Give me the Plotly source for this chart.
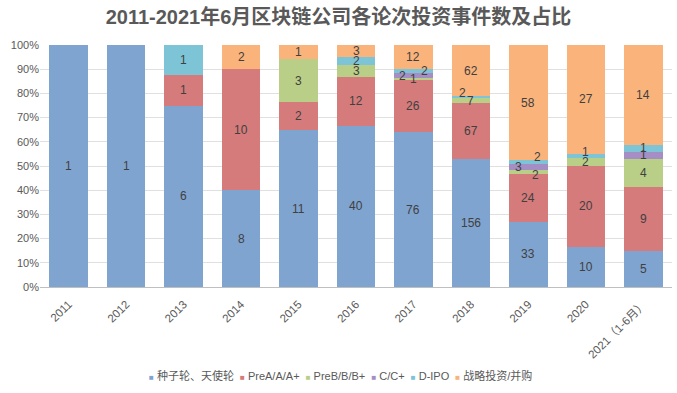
import plotly.graph_objects as go

years = ["2011", "2012", "2013", "2014", "2015", "2016", "2017", "2018", "2019", "2020", "2021（1-6月）"]
series_names = ["种子轮、天使轮", "PreA/A/A+", "PreB/B/B+", "C/C+", "D-IPO", "战略投资/并购"]
seed = [1, 1, 6, 8, 11, 40, 76, 156, 33, 10, 5]
round_a = [0, 0, 1, 10, 2, 12, 26, 67, 24, 20, 9]
round_b = [0, 0, 0, 0, 3, 3, 1, 7, 2, 2, 4]
round_c = [0, 0, 0, 0, 0, 0, 2, 0, 3, 0, 1]
round_d = [0, 0, 1, 0, 0, 2, 2, 2, 2, 1, 1]
strategic = [0, 0, 0, 2, 1, 3, 12, 62, 58, 27, 14]
colors = ["#80A4D0", "#D57B7B", "#B9CF87", "#A58EC3", "#7DC4D7", "#F9B37B"]

all_series = [seed, round_a, round_b, round_c, round_d, strategic]
totals = [sum(s[i] for s in all_series) for i in range(len(years))]

# label nudges (pixels) for crowded small segments, as in the reference
label_nudge = {
    ("2017", "C/C+"): (-11, 0),
    ("2017", "D-IPO"): (11, 0),
    ("2018", "D-IPO"): (-8, 4),
    ("2019", "D-IPO"): (9, 5),
    ("2019", "C/C+"): (-10, 0),
    ("2019", "PreB/B/B+"): (7, -3),
    ("2020", "D-IPO"): (0, 4),
}

fig = go.Figure()
annotations = []
base = [0.0] * len(years)
for name, vals, col in zip(series_names, all_series, colors):
    pct = [v / t * 100 if t else 0 for v, t in zip(vals, totals)]
    fig.add_trace(go.Bar(
        x=years, y=pct, name=name, marker=dict(color=col, line=dict(width=0)),
        hoverinfo="skip", showlegend=False,
    ))
    for i, (v, p) in enumerate(zip(vals, pct)):
        if v > 0:
            dx, dy = label_nudge.get((years[i], name), (0, 0))
            annotations.append(dict(
                x=i, y=base[i] + p / 2, xref="x", yref="y",
                text=str(v), showarrow=False, xshift=dx, yshift=dy,
                font=dict(color="#404040", size=12, family="Liberation Sans, Arial"),
            ))
        base[i] += p

# legend drawn as a compact single line (Excel style)
legend_parts = []
for name, col in zip(series_names, colors):
    legend_parts.append(f"<span style='color:{col};font-size:8px'>■</span> {name}")
annotations.append(dict(
    x=0.475, y=-0.366, xref="paper", yref="paper", xanchor="center", yanchor="middle",
    text="  ".join(legend_parts), showarrow=False,
    font=dict(size=11, color="#595959", family="Liberation Sans, Noto Sans CJK SC"),
))

fig.update_layout(
    barmode="stack",
    bargap=0.33,
    width=677, height=393,
    margin=dict(l=40, r=5, t=45, b=106),
    paper_bgcolor="white", plot_bgcolor="white",
    font=dict(family="Liberation Sans, Noto Sans CJK SC, Arial", color="#595959", size=11),
    title=dict(text="<b>2011-2021年6月区块链公司各论次投资事件数及占比</b>",
               x=0.5, xanchor="center", y=0.957, yanchor="middle",
               font=dict(size=20, color="#595959", family="Liberation Sans, Noto Sans CJK SC")),
    annotations=annotations,
)
fig.update_xaxes(type="category", categoryorder="array", categoryarray=years,
                 range=[-0.5, len(years) - 0.5], ticklabelstandoff=5,
                 tickangle=-45, showline=True, linecolor="#BFBFBF", linewidth=1,
                 tickfont=dict(size=11.5, color="#595959"), showgrid=False, automargin=False)
fig.update_yaxes(range=[0, 100], dtick=10, ticksuffix="%", showgrid=True,
                 gridcolor="#E0E0E0", zeroline=False, tickfont=dict(size=11, color="#595959"),
                 ticks="", automargin=False)

fig.write_html("out.html", config={"displayModeBar": False},
               post_script="document.body.style.margin='0';")
